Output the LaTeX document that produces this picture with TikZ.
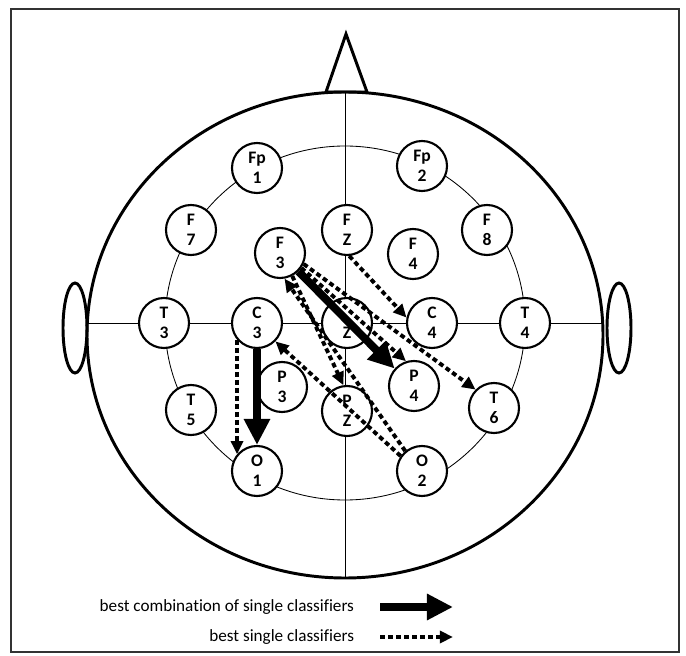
\documentclass[tikz,border=0pt]{standalone}
\usepackage{fontspec}
\setmainfont{Carlito}[Ligatures=NoCommon]
\usepackage{tikz}
\usetikzlibrary{arrows.meta, positioning, shapes.geometric, calc}

\begin{document}
\begin{tikzpicture}[
    x=0.025cm, y=-0.025cm,
    electrode/.style={
        draw, circle, minimum size=1.25cm, inner sep=0pt, line width=1.5pt,
        align=center, fill=white, font=\bfseries\fontsize{12.5}{14.5}\selectfont
    },
    outline/.style={line width=2.1pt},
    guide/.style={line width=0.6pt},
    combo/.style={-{Triangle[length=0.65cm, width=0.62cm]}, line width=5.6pt},
    single/.style={-{Triangle[length=0.33cm, width=0.3cm]}, line width=2.8pt,
        dash pattern=on 0.12cm off 0.08cm},
    legend/.style={anchor=east, font=\fontsize{12.2}{14}\selectfont}
]
\useasboundingbox (0,0) rectangle (686,656);
\draw[line width=1pt, black!80] (11,9) rectangle (679,652);

% head, ears and nose
\draw[outline] (345,335) ellipse [x radius=258, y radius=243];
\draw[outline] (75,328) ellipse [x radius=12, y radius=45];
\draw[outline] (619,328) ellipse [x radius=12, y radius=45];
\draw[outline, line join=miter] (326,92) -- (346,34) -- (367,92) -- cycle;

% ring and midlines
\draw[guide] (345,323) ellipse [x radius=180, y radius=177];
\draw[guide] (87,323) -- (603,323);
\draw[guide] (345,92) -- (345,577);

% electrodes
\node[electrode] (fp1) at (257,168) {Fp\\1};
\node[electrode] (fp2) at (422,166) {Fp\\2};
\node[electrode] (f7)  at (191,230) {F\\7};
\node[electrode] (f3)  at (280,253) {F\\3};
\node[electrode] (fz)  at (347,230) {F\\Z};
\node[electrode] (f4)  at (413,254) {F\\4};
\node[electrode] (f8)  at (487,230) {F\\8};
\node[electrode] (t3)  at (164,323) {T\\3};
\node[electrode] (c3)  at (257,323) {C\\3};
\node[electrode] (z)   at (347,323) {\phantom{C}\\Z};
\node[electrode] (c4)  at (432,323) {C\\4};
\node[electrode] (t4)  at (525,323) {T\\4};
\node[electrode] (t5)  at (191,410) {T\\5};
\node[electrode] (p3)  at (282,387) {P\\3};
\node[electrode] (pz)  at (347,411) {P\\Z};
\node[electrode] (p4)  at (414,386) {P\\4};
\node[electrode] (t6)  at (494,408) {T\\6};
\node[electrode] (o1)  at (257,471) {O\\1};
\node[electrode] (o2)  at (422,471) {O\\2};

% best single classifiers
\draw[single] (c3.-140) -- (o1.140);
\draw[single] (fz.-85) -- (c4.168);
\draw[single] (f3.-35) -- (p4.108);
\draw[single] (f3.-25) -- (t6.135);
\draw[single] (f3.-62) -- (pz.98);
\draw[single] (o2.130) -- (f3.-80);
\draw[single] (o2.145) -- (c3.-45);

% best combination
\draw[combo] (f3.-45) -- (p4.138);
\draw[combo] (c3.south) -- (o1.north);

% legend
\coordinate (combo0) at (380,607);
\coordinate (combo1) at (453,607);
\coordinate (single0) at (380,637);
\coordinate (single1) at (453,637);
\node[legend] (combotext) at (359,607) {best combination of single classifiers};
\node[legend] (singletext) at (359,637) {best single classifiers};
\draw[combo] (combo0) -- (combo1);
\draw[single] (single0) -- (single1);

\end{tikzpicture}
\end{document}
